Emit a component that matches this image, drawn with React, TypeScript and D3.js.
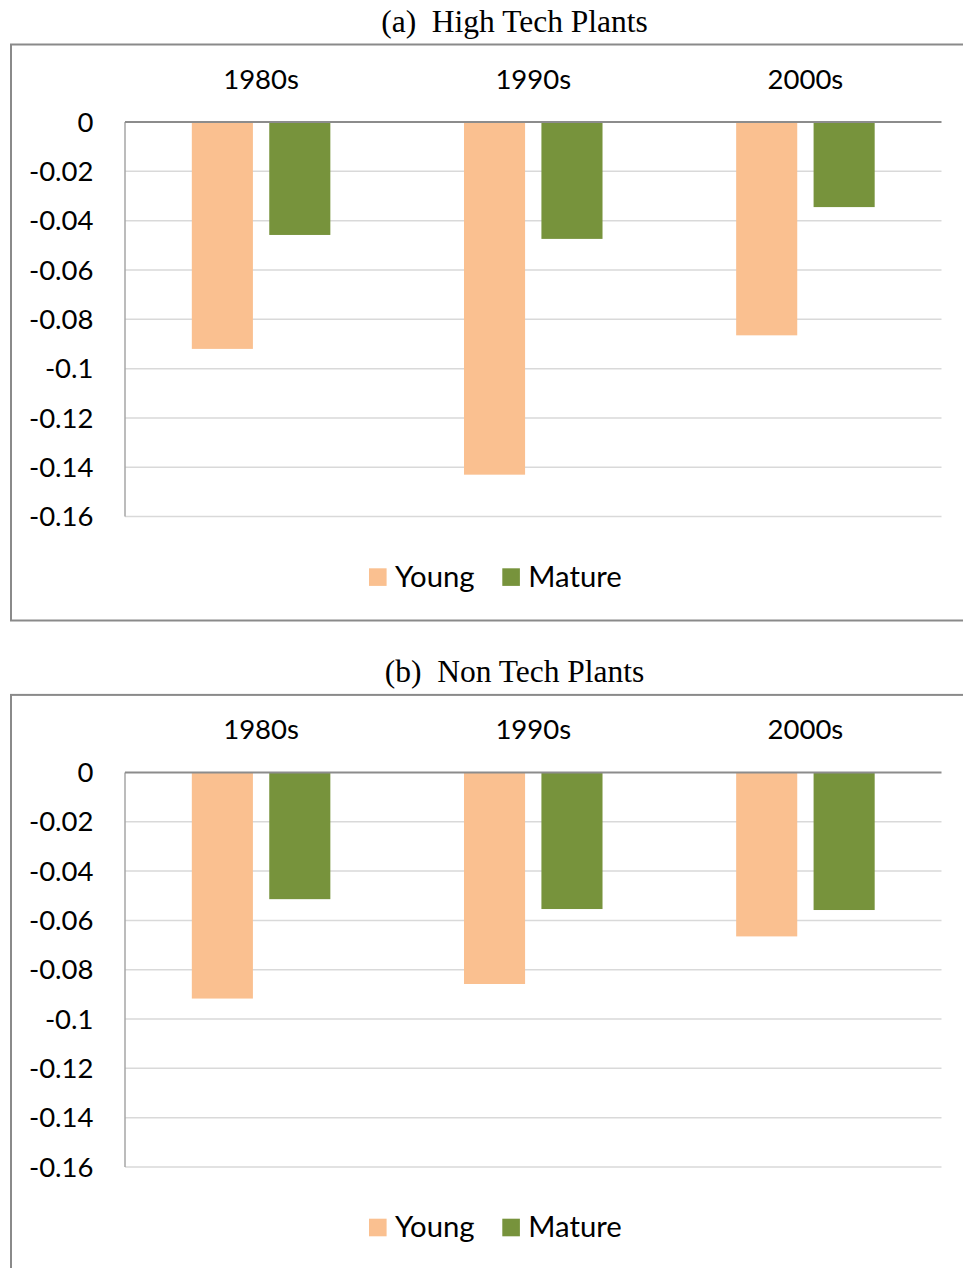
import React from "react";
import * as d3 from "d3";

const categories = ["1980s", "1990s", "2000s"];
const seriesNames = ["Young", "Mature"];
const highTechYoung = [-0.092, -0.143, -0.0865];
const highTechMature = [-0.0458, -0.0474, -0.0345];
const nonTechYoung = [-0.0917, -0.0858, -0.0665];
const nonTechMature = [-0.0514, -0.0554, -0.0558];
const yTicks = [0, -0.02, -0.04, -0.06, -0.08, -0.1, -0.12, -0.14, -0.16];
const panelTitles = ["(a)\u00a0\u00a0High Tech Plants", "(b)\u00a0\u00a0Non Tech Plants"];
const colors = ["#FAC090", "#77933C"];

const W = 963;
const H = 1268;
const SANS = "Lato, 'Open Sans', sans-serif";
const SERIF = "'Liberation Serif', 'Times New Roman', serif";

function Panel({ offsetY, title, young, mature }: { offsetY: number; title: string; young: number[]; mature: number[] }) {
  const plotLeft = 125;
  const plotRight = 941.5;
  const y = d3.scaleLinear().domain([0, -0.16]).range([122, 516.6]);
  const x0 = d3.scaleBand<string>().domain(categories).range([plotLeft, plotRight]).paddingInner(0).paddingOuter(0);
  const x1 = d3.scaleBand<string>().domain(seriesNames).range([0, x0.bandwidth()]).paddingInner(0.211).paddingOuter(0.863);
  const values = [young, mature];
  const fmt = (v: number) => (v === 0 ? "0" : String(+v.toFixed(2)));
  return (
    <g transform={`translate(0,${offsetY})`}>
      <text x={514.5} y={31.5} textAnchor="middle" fontFamily={SERIF} fontSize={31.5} fill="#000">{title}</text>
      <rect x={11} y={44.5} width={W + 20} height={576} fill="#fff" stroke="#8a8a8a" strokeWidth={2} />
      {yTicks.slice(1).map((t) => (
        <line key={t} x1={plotLeft} x2={plotRight} y1={y(t)} y2={y(t)} stroke="#d9d9d9" strokeWidth={1.5} />
      ))}
      {seriesNames.map((s, si) =>
        categories.map((c, ci) => (
          <rect
            key={s + c}
            x={(x0(c) as number) + (x1(s) as number)}
            y={y(0)}
            width={x1.bandwidth()}
            height={y(values[si][ci]) - y(0)}
            fill={colors[si]}
          />
        ))
      )}
      <line x1={plotLeft} x2={plotLeft} y1={y(0)} y2={y(-0.16)} stroke="#a6a6a6" strokeWidth={1.5} />
      <line x1={plotLeft} x2={plotRight} y1={y(0)} y2={y(0)} stroke="#8c8c8c" strokeWidth={2} />
      {yTicks.map((t) => (
        <text key={t} x={93.5} y={y(t)} dy="0.35em" textAnchor="end" fontFamily={SANS} fontSize={27.5} fill="#000">
          {fmt(t)}
        </text>
      ))}
      {categories.map((c) => (
        <text key={c} x={(x0(c) as number) + x0.bandwidth() / 2} y={89} textAnchor="middle" fontFamily={SANS} fontSize={27.5} fill="#000">
          {c}
        </text>
      ))}
      {seriesNames.map((s, i) => {
        const lx = [369, 502.3][i];
        return (
          <g key={s}>
            <rect x={lx} y={568.3} width={17.6} height={17.6} fill={colors[i]} />
            <text x={lx + 26} y={586.5} fontFamily={SANS} fontSize={29.3} fill="#000">{s}</text>
          </g>
        );
      })}
    </g>
  );
}

export default function App() {
  return (
    <svg width={W} height={H} style={{ position: "absolute", left: 0, top: 0, background: "#fff" }}>
      <rect x={0} y={0} width={W} height={H} fill="#fff" />
      <Panel offsetY={0} title={panelTitles[0]} young={highTechYoung} mature={highTechMature} />
      <Panel offsetY={650.4} title={panelTitles[1]} young={nonTechYoung} mature={nonTechMature} />
    </svg>
  );
}
